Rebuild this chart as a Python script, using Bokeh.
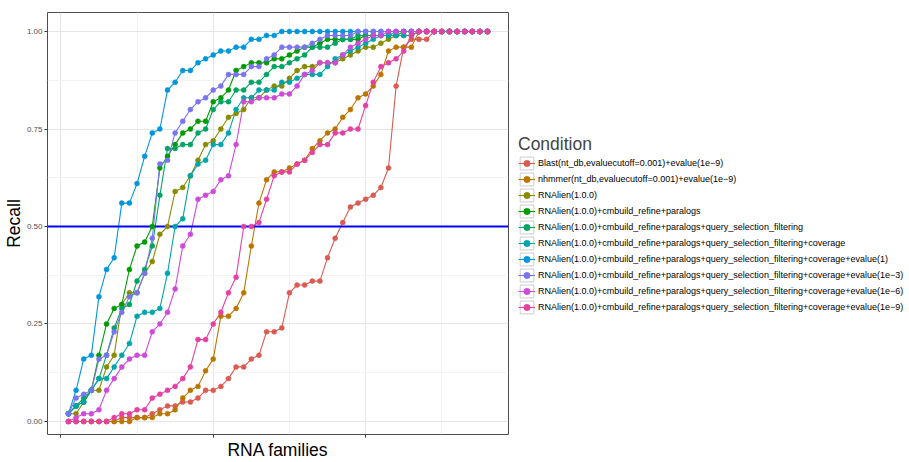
import math
from bokeh.plotting import figure
from bokeh.layouts import row
from bokeh.models import (Range1d, FixedTicker, NumeralTickFormatter, Legend,
                          LegendItem)
from bokeh.embed import file_html
from bokeh.resources import INLINE

# ---------------- data ----------------
families = list(range(1, 57))

conditions = [
    "Blast(nt_db,evaluecutoff=0.001)+evalue(1e\u22129)",
    "nhmmer(nt_db,evaluecutoff=0.001)+evalue(1e\u22129)",
    "RNAlien(1.0.0)",
    "RNAlien(1.0.0)+cmbuild_refine+paralogs",
    "RNAlien(1.0.0)+cmbuild_refine+paralogs+query_selection_filtering",
    "RNAlien(1.0.0)+cmbuild_refine+paralogs+query_selection_filtering+coverage",
    "RNAlien(1.0.0)+cmbuild_refine+paralogs+query_selection_filtering+coverage+evalue(1)",
    "RNAlien(1.0.0)+cmbuild_refine+paralogs+query_selection_filtering+coverage+evalue(1e\u22123)",
    "RNAlien(1.0.0)+cmbuild_refine+paralogs+query_selection_filtering+coverage+evalue(1e\u22126)",
    "RNAlien(1.0.0)+cmbuild_refine+paralogs+query_selection_filtering+coverage+evalue(1e\u22129)",
]

blast = [0.00, 0.00, 0.00, 0.00, 0.00, 0.00, 0.00, 0.01, 0.01, 0.01,
         0.01, 0.02, 0.03, 0.04, 0.04, 0.05, 0.05, 0.06, 0.08, 0.08,
         0.09, 0.11, 0.14, 0.14, 0.16, 0.17, 0.23, 0.23, 0.24, 0.33,
         0.35, 0.35, 0.36, 0.36, 0.42, 0.47, 0.51, 0.55, 0.56, 0.57,
         0.58, 0.60, 0.65, 0.86, 0.96, 0.98, 0.98, 0.98, 1.00, 1.00,
         1.00, 1.00, 1.00, 1.00, 1.00, 1.00]

nhmmer = [0.00, 0.00, 0.00, 0.00, 0.00, 0.00, 0.00, 0.00, 0.00, 0.01,
          0.01, 0.01, 0.02, 0.02, 0.03, 0.06, 0.08, 0.09, 0.13, 0.16,
          0.27, 0.27, 0.29, 0.33, 0.45, 0.56, 0.62, 0.64, 0.64, 0.65,
          0.66, 0.67, 0.70, 0.72, 0.74, 0.75, 0.78, 0.80, 0.83, 0.84,
          0.86, 0.89, 0.95, 0.96, 0.96, 0.96, 1.00, 1.00, 1.00, 1.00,
          1.00, 1.00, 1.00, 1.00, 1.00, 1.00]

rnalien = [0.02, 0.02, 0.05, 0.08, 0.08, 0.14, 0.17, 0.30, 0.33, 0.33,
           0.38, 0.41, 0.48, 0.50, 0.59, 0.60, 0.63, 0.67, 0.71, 0.72,
           0.75, 0.78, 0.79, 0.80, 0.83, 0.83, 0.85, 0.86, 0.86, 0.88,
           0.90, 0.91, 0.91, 0.92, 0.92, 0.92, 0.93, 0.94, 0.95, 0.96,
           0.96, 0.97, 0.98, 0.99, 0.99, 0.99, 1.00, 1.00, 1.00, 1.00,
           1.00, 1.00, 1.00, 1.00, 1.00, 1.00]

refine_paralogs = [0.02, 0.04, 0.05, 0.08, 0.17, 0.25, 0.29, 0.30, 0.39, 0.45,
                   0.46, 0.50, 0.65, 0.68, 0.71, 0.74, 0.75, 0.77, 0.77, 0.82,
                   0.83, 0.85, 0.90, 0.91, 0.92, 0.92, 0.92, 0.93, 0.93, 0.94,
                   0.95, 0.96, 0.96, 0.97, 0.98, 0.98, 0.98, 0.98, 0.98, 0.99,
                   0.99, 0.99, 0.99, 0.99, 1.00, 1.00, 1.00, 1.00, 1.00, 1.00,
                   1.00, 1.00, 1.00, 1.00, 1.00, 1.00]

query_filtering = [0.02, 0.04, 0.06, 0.08, 0.11, 0.17, 0.24, 0.29, 0.30, 0.36,
                   0.39, 0.45, 0.58, 0.70, 0.70, 0.71, 0.71, 0.74, 0.75, 0.80,
                   0.82, 0.82, 0.85, 0.85, 0.87, 0.87, 0.89, 0.91, 0.91, 0.92,
                   0.93, 0.94, 0.96, 0.96, 0.96, 0.97, 0.98, 0.98, 0.99, 0.99,
                   0.99, 0.99, 0.99, 1.00, 1.00, 1.00, 1.00, 1.00, 1.00, 1.00,
                   1.00, 1.00, 1.00, 1.00, 1.00, 1.00]

coverage = [0.02, 0.04, 0.05, 0.08, 0.11, 0.11, 0.14, 0.17, 0.20, 0.27,
            0.28, 0.28, 0.29, 0.38, 0.50, 0.52, 0.63, 0.66, 0.67, 0.71,
            0.71, 0.74, 0.80, 0.83, 0.83, 0.85, 0.85, 0.85, 0.87, 0.87,
            0.88, 0.89, 0.89, 0.89, 0.91, 0.93, 0.94, 0.95, 0.96, 0.97,
            0.98, 0.99, 0.99, 0.99, 0.99, 0.99, 1.00, 1.00, 1.00, 1.00,
            1.00, 1.00, 1.00, 1.00, 1.00, 1.00]

evalue_1 = [0.02, 0.08, 0.16, 0.17, 0.32, 0.39, 0.42, 0.56, 0.56, 0.61,
            0.68, 0.74, 0.75, 0.85, 0.87, 0.90, 0.90, 0.92, 0.93, 0.94,
            0.95, 0.95, 0.96, 0.96, 0.98, 0.98, 0.99, 0.99, 1.00, 1.00,
            1.00, 1.00, 1.00, 1.00, 1.00, 1.00, 1.00, 1.00, 1.00, 1.00,
            1.00, 1.00, 1.00, 1.00, 1.00, 1.00, 1.00, 1.00, 1.00, 1.00,
            1.00, 1.00, 1.00, 1.00, 1.00, 1.00]

evalue_1e3 = [0.02, 0.06, 0.07, 0.08, 0.16, 0.17, 0.23, 0.28, 0.32, 0.33,
              0.38, 0.47, 0.66, 0.67, 0.74, 0.77, 0.80, 0.82, 0.83, 0.85,
              0.86, 0.89, 0.89, 0.89, 0.91, 0.91, 0.93, 0.94, 0.96, 0.96,
              0.96, 0.96, 0.97, 0.98, 0.99, 0.99, 0.99, 0.99, 1.00, 1.00,
              1.00, 1.00, 1.00, 1.00, 1.00, 1.00, 1.00, 1.00, 1.00, 1.00,
              1.00, 1.00, 1.00, 1.00, 1.00, 1.00]

evalue_1e6 = [0.00, 0.01, 0.02, 0.02, 0.03, 0.08, 0.11, 0.14, 0.16, 0.17,
              0.17, 0.23, 0.25, 0.28, 0.34, 0.45, 0.48, 0.57, 0.58, 0.59,
              0.62, 0.63, 0.71, 0.82, 0.82, 0.83, 0.83, 0.83, 0.84, 0.84,
              0.86, 0.89, 0.90, 0.92, 0.92, 0.92, 0.94, 0.96, 0.97, 0.98,
              0.99, 0.99, 1.00, 1.00, 1.00, 1.00, 1.00, 1.00, 1.00, 1.00,
              1.00, 1.00, 1.00, 1.00, 1.00, 1.00]

evalue_1e9 = [0.00, 0.00, 0.00, 0.00, 0.00, 0.00, 0.01, 0.02, 0.02, 0.03,
              0.03, 0.06, 0.07, 0.08, 0.09, 0.11, 0.14, 0.21, 0.21, 0.25,
              0.28, 0.33, 0.37, 0.50, 0.50, 0.51, 0.57, 0.63, 0.64, 0.64,
              0.66, 0.67, 0.69, 0.71, 0.71, 0.74, 0.74, 0.75, 0.75, 0.81,
              0.87, 0.91, 0.92, 0.93, 0.95, 0.99, 1.00, 1.00, 1.00, 1.00,
              1.00, 1.00, 1.00, 1.00, 1.00, 1.00]

recall_threshold = 0.5
y_ticks = [0.0, 0.25, 0.5, 0.75, 1.0]
x_ticks = [0, 20, 40]

series = [blast, nhmmer, rnalien, refine_paralogs, query_filtering,
          coverage, evalue_1, evalue_1e3, evalue_1e6, evalue_1e9]


# ---------------- colours (ggplot-like hue palette) ----------------
def hcl_hex(h, c, l):
    hr = math.radians(h)
    U, V = c * math.cos(hr), c * math.sin(hr)
    Xn, Yn, Zn = 95.047, 100.0, 108.883
    Y = Yn * ((l + 16) / 116) ** 3 if l > 8 else Yn * l / 903.3
    den = Xn + 15 * Yn + 3 * Zn
    un, vn = 4 * Xn / den, 9 * Yn / den
    u = U / (13 * l) + un
    v = V / (13 * l) + vn
    X = 9.0 * Y * u / (4 * v)
    Z = Y * (12 - 3 * u - 20 * v) / (4 * v)
    X, Y, Z = X / 100, Y / 100, Z / 100
    r = 3.2404542 * X - 1.5371385 * Y - 0.4985314 * Z
    g = -0.9692660 * X + 1.8760108 * Y + 0.0415560 * Z
    b = 0.0556434 * X - 0.2040259 * Y + 1.0572252 * Z

    def gam(t):
        t = 12.92 * t if t <= 0.0031308 else 1.055 * t ** (1 / 2.4) - 0.055
        return int(round(255 * min(1.0, max(0.0, t))))
    return "#%02x%02x%02x" % (gam(r), gam(g), gam(b))


colors = [hcl_hex(15 + 36 * k, 100, 55) for k in range(10)]

FONT = "Liberation Sans"

# ---------------- main plot ----------------
p = figure(width=509, height=462, output_backend="svg", toolbar_location=None,
           x_range=Range1d(-1.75, 58.75), y_range=Range1d(-0.0334, 1.0488),
           min_border_left=47, min_border_right=1, min_border_top=12,
           min_border_bottom=24, background_fill_color="white",
           border_fill_color="white")
p.title.visible = False
p.outline_line_color = "#4d4d4d"
p.outline_line_width = 1

xt = FixedTicker(ticks=x_ticks, minor_ticks=[10, 30, 50])
yt = FixedTicker(ticks=y_ticks, minor_ticks=[0.125, 0.375, 0.625, 0.875])
p.xaxis.ticker = xt
p.yaxis.ticker = yt
p.xgrid.ticker = xt
p.ygrid.ticker = yt
p.yaxis.formatter = NumeralTickFormatter(format="0.00")
p.xaxis.major_label_overrides = {t: "" for t in x_ticks}

for ax in (p.xaxis, p.yaxis):
    ax.axis_line_color = None
    ax.major_tick_line_color = "#333333"
    ax.major_tick_out = 3
    ax.major_tick_in = 0
    ax.minor_tick_line_color = None
    ax.major_label_text_font = FONT
    ax.major_label_text_color = "#4d4d4d"
    ax.axis_label_text_font = FONT
    ax.axis_label_text_font_size = "17.5px"
    ax.axis_label_text_font_style = "normal"
    ax.axis_label_text_color = "black"

p.yaxis.major_label_text_font_size = "8px"
p.yaxis.major_label_standoff = 1
p.yaxis.axis_label = "Recall"
p.yaxis.axis_label_standoff = 0
p.xaxis.major_label_text_font_size = "0px"
p.xaxis.major_label_standoff = 0
p.xaxis.axis_label = "RNA families"
p.xaxis.axis_label_standoff = 1

for g in (p.xgrid, p.ygrid):
    g.grid_line_color = "#e5e5e5"
    g.grid_line_width = 1
    g.minor_grid_line_color = "#f3f3f3"
    g.minor_grid_line_width = 1

for ys, col in zip(series, colors):
    p.line(families, ys, line_color=col, line_width=1.1)

p.hspan(y=[recall_threshold], line_color="#0000ff", line_width=2)

for ys, col in zip(series, colors):
    p.scatter(families, ys, size=5, fill_color=col, line_color=col,
              line_width=0.5)

# ---------------- legend panel (separate figure to the right) ----------------
lg = figure(width=400, height=462, output_backend="svg", toolbar_location=None,
            x_range=Range1d(-3, -2), y_range=Range1d(-3, -2),
            x_axis_type=None, y_axis_type=None, min_border=0,
            outline_line_color=None, background_fill_color="white",
            border_fill_color="white")
lg.title.visible = False

# key box (its single quad lies outside this panel's ranges)
box_r = lg.quad(left=[-10], right=[-10], top=[-10], bottom=[-10],
                fill_color="white", line_color="#cccccc", line_width=1)

items = []
for lab, ys, col in zip(conditions, series, colors):
    lr = lg.line(families, ys, line_color=col, line_width=1.1)
    sr = lg.scatter(families, ys, size=5, fill_color=col, line_color=col,
                    line_width=0.5)
    items.append(LegendItem(label=lab, renderers=[box_r, lr, sr]))

legend = Legend(items=items, location=(9, 119), title="Condition",
                title_text_font=FONT, title_text_font_size="17.5px",
                title_text_font_style="normal", title_standoff=0,
                label_text_font=FONT, label_text_font_size="9px",
                label_text_color="black", label_standoff=3,
                glyph_width=17, glyph_height=16, label_height=16,
                spacing=0, padding=0, margin=0,
                border_line_color=None, background_fill_alpha=0)
lg.add_layout(legend)

layout = row(p, lg, spacing=0)

open("out.html", "w").write(file_html(layout, INLINE))
